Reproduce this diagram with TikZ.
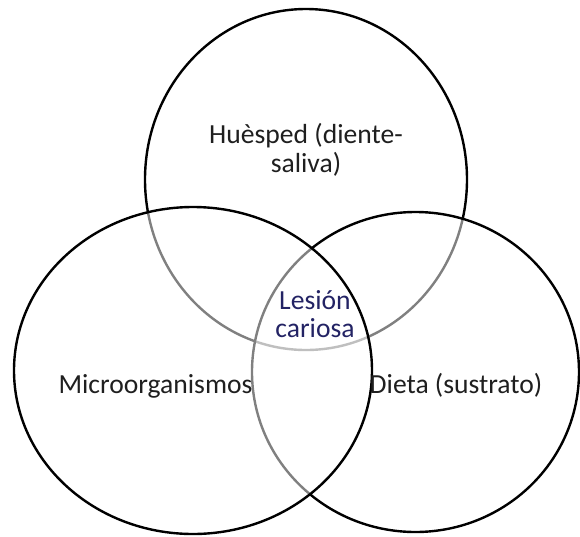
\documentclass[tikz,border=0pt]{standalone}
\usepackage{fontspec}
\setmainfont{Carlito}
\usepackage{tikz}
\usetikzlibrary{shapes.geometric}
\definecolor{lesioncol}{RGB}{35,35,100}

\begin{document}
\begin{tikzpicture}[x=0.5pt, y=-0.5pt,
    ring/.style={draw, ellipse, line width=1.2pt, fill=white, fill opacity=0.5, inner sep=0pt},
    lbl/.style={font=\fontsize{13.8}{14.4}\selectfont, align=center, text=black!88}]
            % Venn diagram: factors of a caries lesion
            \useasboundingbox (0,0) rectangle (580,537);
            \node[ring, minimum width=161pt, minimum height=170.5pt] (huesped) at (306,179.5) {};
            \node[ring, minimum width=163.5pt, minimum height=160pt] (dieta) at (415.5,372) {};
            \node[ring, minimum width=179pt, minimum height=163.5pt] (micro) at (193,370.5) {};

            \node[lbl] (huespedtxt) at (306,150) {Huèsped (diente-\\saliva)};
            \node[lbl, anchor=base] (microtxt) at (155.5,393) {Microorganismos};
            \node[lbl, anchor=base] (dietatxt) at (456,393) {Dieta (sustrato)};
            \node[lbl, text=lesioncol] (lesiontxt) at (315,314) {Lesión\\cariosa};
        \end{tikzpicture}
\end{document}
